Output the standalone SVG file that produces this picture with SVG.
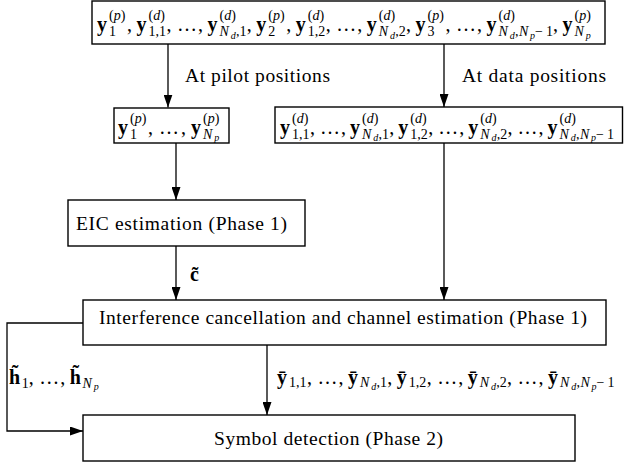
<svg xmlns="http://www.w3.org/2000/svg" width="624" height="466" viewBox="0 0 624 466">
<style>
.box{fill:#fff;stroke:#000;stroke-width:1.4}
.ln{fill:none;stroke:#000;stroke-width:1.3;marker-end:url(#ah)}
text{font-family:"Liberation Serif","Times New Roman",serif;fill:#000}
.t{font-size:19.5px}
.m{font-size:20px}
.b{font-weight:bold}
.s{font-size:14px}
.ss{font-size:10px}
.i{font-style:italic}
</style>
<defs>
<marker id="ah" viewBox="0 0 13 9" refX="13" refY="4.5" markerWidth="13" markerHeight="9" markerUnits="userSpaceOnUse" orient="auto"><path d="M0,0 L13,4.5 L0,9 z" fill="#000"/></marker>
</defs>

<g id="connectors">
<line class="ln" x1="168" y1="44" x2="168" y2="107.5"/>
<line class="ln" x1="444" y1="44" x2="444" y2="107"/>
<line class="ln" x1="176" y1="143" x2="176" y2="200"/>
<line class="ln" x1="176" y1="246" x2="176" y2="300"/>
<line class="ln" x1="444" y1="143" x2="444" y2="300"/>
<line class="ln" x1="267" y1="345" x2="267" y2="415"/>
<polyline class="ln" points="83,323 7,323 7,431 83,431"/>
<text class="t" x="185" y="82" textLength="145">At pilot positions</text>
<text class="t" x="462" y="82" textLength="144">At data positions</text>
<text class="m b" x="190" y="281">c̃</text>
<text class="m"><tspan class="b" x="9" y="384">h̃</tspan><tspan class="s" x="21.8" y="387.5">1</tspan><tspan x="28.8" y="384">,</tspan><tspan x="39.3" y="384">…</tspan><tspan x="60.3" y="384">,</tspan><tspan class="b" x="69.8" y="384">h̃</tspan><tspan class="s i" x="82.6" y="387.5">N</tspan><tspan class="ss i" x="93.8" y="390">p</tspan></text>
<text class="m"><tspan class="b" x="277" y="384">ȳ</tspan><tspan class="s" x="289" y="387">1,1</tspan><tspan x="307" y="384">,</tspan><tspan x="317.5" y="384">…</tspan><tspan x="338.5" y="384">,</tspan><tspan class="b" x="348" y="384">ȳ</tspan><tspan class="s i" x="360" y="387">N</tspan><tspan class="ss i" x="371.2" y="389.5">d</tspan><tspan class="s" x="376.4" y="387">,1</tspan><tspan x="387.3" y="384">,</tspan><tspan class="b" x="396.8" y="384">ȳ</tspan><tspan class="s" x="408.8" y="387">1,2</tspan><tspan x="426.8" y="384">,</tspan><tspan x="437.3" y="384">…</tspan><tspan x="458.3" y="384">,</tspan><tspan class="b" x="467.8" y="384">ȳ</tspan><tspan class="s i" x="479.8" y="387">N</tspan><tspan class="ss i" x="491" y="389.5">d</tspan><tspan class="s" x="496.2" y="387">,2</tspan><tspan x="507.1" y="384">,</tspan><tspan x="517.6" y="384">…</tspan><tspan x="538.6" y="384">,</tspan><tspan class="b" x="548.1" y="384">ȳ</tspan><tspan class="s i" x="560.1" y="387">N</tspan><tspan class="ss i" x="571.3" y="389.5">d</tspan><tspan class="s" x="576.5" y="387">,</tspan><tspan class="s i" x="580.4" y="387">N</tspan><tspan class="ss i" x="591.6" y="389.5">p</tspan><tspan class="s" x="596.6" y="387">−</tspan><tspan class="s" x="607.5" y="387">1</tspan></text>
</g>

<g id="received">
<rect class="box" x="92" y="1" width="513" height="43"/>
<text class="m"><tspan class="b" x="97" y="31">y</tspan><tspan class="s" x="109" y="20">(<tspan class="i">p</tspan>)</tspan><tspan class="s" x="109" y="36">1</tspan><tspan x="127" y="31">,</tspan><tspan class="b" x="136.5" y="31">y</tspan><tspan class="s" x="148.5" y="20">(<tspan class="i">d</tspan>)</tspan><tspan class="s" x="148.5" y="36">1,1</tspan><tspan x="166.5" y="31">,</tspan><tspan x="177" y="31">…</tspan><tspan x="198" y="31">,</tspan><tspan class="b" x="207.5" y="31">y</tspan><tspan class="s" x="219.5" y="20">(<tspan class="i">d</tspan>)</tspan><tspan class="s i" x="219.5" y="36">N</tspan><tspan class="ss i" x="230.7" y="38.5">d</tspan><tspan class="s" x="235.9" y="36">,1</tspan><tspan x="246.8" y="31">,</tspan><tspan class="b" x="256.3" y="31">y</tspan><tspan class="s" x="268.3" y="20">(<tspan class="i">p</tspan>)</tspan><tspan class="s" x="268.3" y="36">2</tspan><tspan x="286.3" y="31">,</tspan><tspan class="b" x="295.8" y="31">y</tspan><tspan class="s" x="307.8" y="20">(<tspan class="i">d</tspan>)</tspan><tspan class="s" x="307.8" y="36">1,2</tspan><tspan x="325.8" y="31">,</tspan><tspan x="336.3" y="31">…</tspan><tspan x="357.3" y="31">,</tspan><tspan class="b" x="366.8" y="31">y</tspan><tspan class="s" x="378.8" y="20">(<tspan class="i">d</tspan>)</tspan><tspan class="s i" x="378.8" y="36">N</tspan><tspan class="ss i" x="390" y="38.5">d</tspan><tspan class="s" x="395.2" y="36">,2</tspan><tspan x="406.1" y="31">,</tspan><tspan class="b" x="415.6" y="31">y</tspan><tspan class="s" x="427.6" y="20">(<tspan class="i">p</tspan>)</tspan><tspan class="s" x="427.6" y="36">3</tspan><tspan x="445.6" y="31">,</tspan><tspan x="456.1" y="31">…</tspan><tspan x="477.1" y="31">,</tspan><tspan class="b" x="486.6" y="31">y</tspan><tspan class="s" x="498.6" y="20">(<tspan class="i">d</tspan>)</tspan><tspan class="s i" x="498.6" y="36">N</tspan><tspan class="ss i" x="509.8" y="38.5">d</tspan><tspan class="s" x="515" y="36">,</tspan><tspan class="s i" x="518.9" y="36">N</tspan><tspan class="ss i" x="530.1" y="38.5">p</tspan><tspan class="s" x="535.1" y="36">−</tspan><tspan class="s" x="546" y="36">1</tspan><tspan x="553" y="31">,</tspan><tspan class="b" x="562.5" y="31">y</tspan><tspan class="s" x="574.5" y="20">(<tspan class="i">p</tspan>)</tspan><tspan class="s i" x="574.5" y="36">N</tspan><tspan class="ss i" x="585.7" y="38.5">p</tspan></text>
</g>

<g id="pilots">
<rect class="box" x="114" y="108" width="115" height="35"/>
<text class="m"><tspan class="b" x="118" y="134">y</tspan><tspan class="s" x="130" y="123">(<tspan class="i">p</tspan>)</tspan><tspan class="s" x="130" y="138.5">1</tspan><tspan x="148" y="134">,</tspan><tspan x="159" y="134">…</tspan><tspan x="181" y="134">,</tspan><tspan class="b" x="191" y="134">y</tspan><tspan class="s" x="203" y="123">(<tspan class="i">p</tspan>)</tspan><tspan class="s i" x="203" y="138.5">N</tspan><tspan class="ss i" x="214.2" y="141">p</tspan></text>
</g>

<g id="data">
<rect class="box" x="275" y="107" width="347.5" height="36"/>
<text class="m"><tspan class="b" x="280" y="134">y</tspan><tspan class="s" x="292" y="123">(<tspan class="i">d</tspan>)</tspan><tspan class="s" x="292" y="138.5">1,1</tspan><tspan x="310" y="134">,</tspan><tspan x="320" y="134">…</tspan><tspan x="341" y="134">,</tspan><tspan class="b" x="350" y="134">y</tspan><tspan class="s" x="362" y="123">(<tspan class="i">d</tspan>)</tspan><tspan class="s i" x="362" y="138.5">N</tspan><tspan class="ss i" x="373.2" y="141">d</tspan><tspan class="s" x="378.4" y="138.5">,1</tspan><tspan x="389.3" y="134">,</tspan><tspan class="b" x="398.3" y="134">y</tspan><tspan class="s" x="410.3" y="123">(<tspan class="i">d</tspan>)</tspan><tspan class="s" x="410.3" y="138.5">1,2</tspan><tspan x="428.3" y="134">,</tspan><tspan x="438.3" y="134">…</tspan><tspan x="459.3" y="134">,</tspan><tspan class="b" x="468.3" y="134">y</tspan><tspan class="s" x="480.3" y="123">(<tspan class="i">d</tspan>)</tspan><tspan class="s i" x="480.3" y="138.5">N</tspan><tspan class="ss i" x="491.5" y="141">d</tspan><tspan class="s" x="496.7" y="138.5">,2</tspan><tspan x="507.6" y="134">,</tspan><tspan x="517.6" y="134">…</tspan><tspan x="538.6" y="134">,</tspan><tspan class="b" x="547.6" y="134">y</tspan><tspan class="s" x="559.6" y="123">(<tspan class="i">d</tspan>)</tspan><tspan class="s i" x="559.6" y="138.5">N</tspan><tspan class="ss i" x="570.8" y="141">d</tspan><tspan class="s" x="576" y="138.5">,</tspan><tspan class="s i" x="579.9" y="138.5">N</tspan><tspan class="ss i" x="591.1" y="141">p</tspan><tspan class="s" x="596.1" y="138.5">−</tspan><tspan class="s" x="607" y="138.5">1</tspan></text>
</g>

<g id="eic">
<rect class="box" x="68" y="200" width="237" height="46"/>
<text class="t" x="76" y="230" textLength="211">EIC estimation (Phase 1)</text>
</g>

<g id="ic">
<rect class="box" x="83" y="300" width="523" height="45"/>
<text class="t" x="99" y="324" textLength="488">Interference cancellation and channel estimation (Phase 1)</text>
</g>

<g id="sd">
<rect class="box" x="83" y="415" width="492" height="46"/>
<text class="t" x="214" y="445" textLength="229">Symbol detection (Phase 2)</text>
</g>
</svg>
